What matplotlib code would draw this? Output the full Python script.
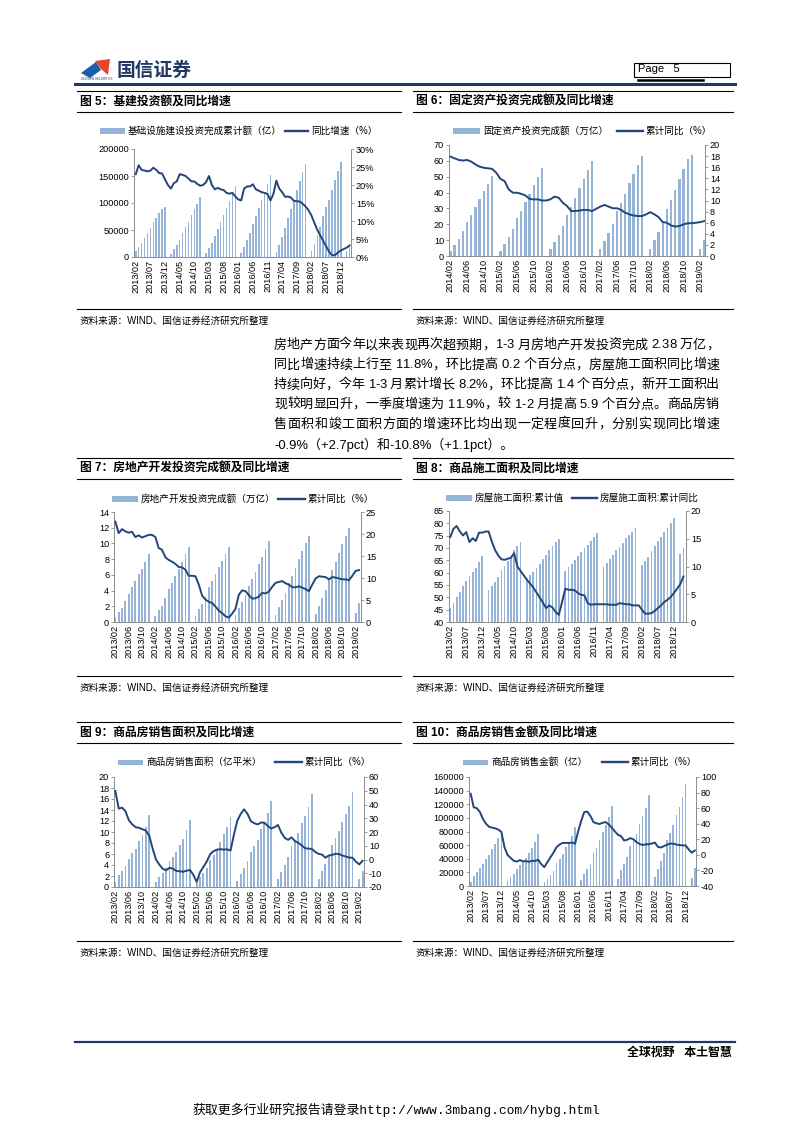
import numpy as np
import pandas as pd
import matplotlib
matplotlib.use("Agg")
import matplotlib.pyplot as plt
from matplotlib.lines import Line2D
from matplotlib.patches import Rectangle, Polygon
from matplotlib.font_manager import FontProperties
from matplotlib.ticker import FuncFormatter, MultipleLocator

plt.rcParams['font.family'] = ['Liberation Sans', 'Noto Sans CJK SC', 'DejaVu Sans']
plt.rcParams['axes.unicode_minus'] = False

W, H = 793, 1122
nan = np.nan

# ---------------- data ----------------
# 图5 基建投资 (2013/02 - 2019/03)
infra_amt = [11000, 18000, 26000, 36000, 45000, 54000, 64000, 73000, 82000, 88000, 93000,
             nan, 6000, 14000, 22000, 31000, 45000, 55000, 65000, 77000, 88000, 98000, 112000,
             nan, 7000, 16000, 26000, 38000, 52000, 64000, 77000, 91000, 103000, 117000, 132000,
             nan, 8000, 19000, 31000, 45000, 62000, 76000, 91000, 106000, 120000, 135000, 152000,
             nan, 10000, 23000, 37000, 53000, 72000, 89000, 106000, 124000, 140000, 157000, 173000,
             nan, 11000, 25000, 40000, 56000, 76000, 92000, 106000, 124000, 142000, 159000, 176000,
             nan, 11000, 25000]
infra_yoy = [23.0, 25.5, 24.2, 24.0, 23.8, 24.0, 24.8, 24.2, 23.3, 23.2, 21.5,
             20.0, 19.0, 20.5, 21.0, 23.0, 22.8, 22.5, 21.8, 21.0, 21.0, 20.3, 19.8,
             20.0, 20.8, 22.5, 20.0, 18.8, 19.2, 18.8, 18.6, 17.8, 17.6, 17.8, 16.8,
             16.0, 15.7, 19.0, 19.6, 19.6, 20.2, 18.8, 18.4, 18.0, 17.8, 17.5, 15.7,
             17.5, 21.2, 19.0, 18.0, 16.7, 16.8, 16.5, 15.6, 15.5, 15.4, 14.8, 14.0,
             13.0, 11.5, 9.5, 7.5, 6.0, 4.5, 3.0, 1.5, 0.5, 0.5, 1.2, 1.8,
             2.2, 2.6, 3.2]

# 图6 固定资产投资 (2014/02 - 2019/03)
fai_amt = [3.0, 6.8, 10.6, 15.6, 21.3, 25.9, 30.6, 35.8, 40.7, 45.1, 50.2,
           nan, 3.4, 7.7, 11.8, 16.9, 23.7, 28.6, 34.0, 39.4, 44.8, 49.8, 55.2,
           nan, 4.2, 8.6, 13.2, 18.7, 25.8, 31.2, 36.6, 42.6, 48.3, 54.0, 59.7,
           nan, 4.4, 9.4, 14.6, 20.3, 28.1, 33.7, 39.4, 45.8, 51.7, 57.5, 63.2,
           nan, 4.5, 10.0, 15.4, 21.6, 29.7, 35.5, 41.4, 48.3, 54.7, 61.0, 63.6,
           nan, 4.5, 10.2]
fai_yoy = [17.9, 17.6, 17.3, 17.2, 17.3, 17.0, 16.5, 16.1, 15.9, 15.8, 15.7,
           15.0, 13.9, 13.5, 12.0, 11.4, 11.4, 11.2, 10.9, 10.3, 10.2, 10.2, 10.0,
           10.0, 10.2, 10.7, 10.5, 9.6, 9.0, 8.1, 8.1, 8.2, 8.3, 8.3, 8.1,
           8.5, 8.9, 9.2, 8.9, 8.6, 8.6, 8.3, 7.8, 7.5, 7.3, 7.2, 7.2,
           7.5, 7.9, 7.5, 7.0, 6.1, 6.0, 5.5, 5.3, 5.4, 5.7, 5.9, 5.9,
           6.0, 6.1, 6.3]

# 图7 房地产开发投资 (2013/02 - 2019/03)
re_amt = [0.7, 1.3, 1.8, 2.7, 3.6, 4.4, 5.2, 6.1, 6.8, 7.7, 8.6,
          nan, 0.8, 1.5, 2.1, 3.0, 4.2, 5.0, 5.9, 6.8, 7.7, 8.6, 9.5,
          nan, 0.8, 1.7, 2.3, 3.2, 4.4, 5.2, 6.1, 7.0, 7.8, 8.7, 9.6,
          nan, 0.9, 1.8, 2.5, 3.5, 4.6, 5.5, 6.4, 7.4, 8.3, 9.3, 10.3,
          nan, 0.9, 1.9, 2.8, 3.7, 5.0, 5.9, 6.9, 8.0, 9.0, 10.0, 11.0,
          nan, 1.0, 2.0, 3.0, 4.1, 5.5, 6.6, 7.7, 8.8, 9.9, 11.0, 12.0,
          nan, 1.2, 2.4]
re_yoy = [22.8, 20.2, 21.1, 20.6, 20.3, 20.5, 19.3, 19.7, 19.2, 19.5, 19.8,
          19.8, 19.3, 16.8, 16.4, 14.7, 14.1, 13.7, 13.2, 12.5, 12.4, 11.9, 10.5,
          10.5, 10.4, 8.5, 6.0, 5.1, 4.6, 4.3, 3.5, 2.6, 2.0, 1.3, 1.0,
          1.9, 3.0, 6.2, 7.2, 7.0, 6.1, 5.3, 5.4, 5.8, 6.6, 6.5, 6.9,
          8.0, 8.9, 9.1, 9.3, 8.8, 8.5, 7.9, 7.9, 8.1, 7.8, 7.5, 7.0,
          8.5, 9.9, 10.4, 10.3, 10.2, 9.7, 10.2, 10.1, 9.9, 9.7, 9.7, 9.5,
          10.5, 11.6, 11.8]

# 图8 房屋施工面积 (2013/02 - 2019/03)
con_area = [45.5, 47.8, 50.0, 52.3, 54.7, 56.8, 58.5, 60.3, 61.7, 64.5, 66.6,
            nan, 53.0, 54.7, 56.3, 58.3, 61.1, 62.8, 64.8, 66.5, 69.3, 71.0, 72.6,
            nan, 58.0, 58.9, 60.2, 61.9, 63.7, 65.5, 67.0, 69.2, 70.9, 72.4, 73.6,
            nan, 60.7, 62.5, 63.5, 65.2, 66.8, 68.4, 69.8, 71.3, 72.9, 74.4, 75.9,
            nan, 62.4, 63.9, 65.4, 67.1, 69.2, 70.6, 72.0, 73.9, 75.1, 76.6, 78.1,
            nan, 63.3, 64.7, 66.4, 68.6, 71.0, 72.8, 74.5, 76.6, 78.2, 80.2, 82.2,
            nan, 67.5, 70.0]
con_yoy = [15.3, 16.8, 17.3, 16.3, 15.6, 16.2, 14.4, 15.1, 14.6, 16.1, 16.1,
           16.3, 16.3, 14.5, 13.0, 12.0, 11.3, 11.2, 11.4, 11.6, 12.4, 10.0, 9.2,
           8.4, 7.6, 6.9, 6.2, 5.3, 4.4, 3.5, 2.5, 3.0, 2.6, 1.8, 1.3,
           3.6, 6.0, 5.8, 5.8, 5.7, 5.2, 4.9, 4.8, 3.4, 3.1, 3.2, 3.2,
           3.2, 3.2, 3.2, 3.1, 3.1, 3.1, 3.4, 3.3, 3.2, 3.2, 3.0, 3.0,
           3.0, 2.2, 1.5, 1.5, 1.6, 2.0, 2.5, 3.0, 3.6, 4.0, 4.5, 5.2,
           6.0, 6.8, 8.2]

# 图9 商品房销售面积 (2013/02 - 2019/03)
sale_area = [1.0, 2.2, 2.9, 3.9, 5.1, 6.1, 7.0, 8.4, 9.5, 11.0, 13.1,
             nan, 1.0, 1.9, 2.6, 3.5, 4.7, 5.5, 6.4, 7.6, 8.8, 10.4, 12.1,
             nan, 0.8, 1.8, 2.5, 3.5, 5.0, 5.9, 6.9, 8.2, 9.6, 10.9, 12.8,
             nan, 1.1, 2.4, 3.5, 4.7, 6.4, 7.5, 8.6, 10.5, 11.9, 13.5, 15.7,
             nan, 1.4, 2.8, 4.0, 5.4, 7.4, 8.6, 9.8, 11.6, 13.0, 14.6, 16.9,
             nan, 1.4, 2.9, 4.2, 5.7, 7.7, 9.0, 10.2, 11.9, 13.3, 14.8, 17.2,
             nan, 1.4, 3.0]
sale_area_yoy = [49.8, 37.0, 37.7, 35.0, 28.5, 25.5, 23.5, 23.0, 22.0, 21.0, 17.3,
                 8.0, -0.1, -3.8, -6.8, -7.8, -6.0, -6.7, -8.3, -8.6, -8.9, -8.2, -7.6,
                 -11.0, -16.3, -9.2, -5.4, -1.4, 3.9, 6.1, 7.2, 7.5, 7.2, 7.4, 6.5,
                 18.0, 28.2, 33.1, 36.5, 33.2, 27.9, 26.4, 25.5, 26.9, 26.8, 24.3, 22.5,
                 23.5, 25.1, 19.5, 15.7, 14.3, 16.1, 13.5, 12.1, 10.3, 8.2, 7.9, 7.7,
                 5.5, 4.1, 3.6, 1.3, 2.9, 3.3, 4.2, 4.0, 2.9, 2.2, 1.4, 1.3,
                 -1.5, -3.6, -0.9]

# 图10 商品房销售金额 (2013/02 - 2019/03)
sale_amt = [6500, 14000, 20000, 26000, 33000, 40000, 46000, 54000, 61000, 70000, 81400,
            nan, 7000, 13000, 18000, 25000, 31000, 36000, 41000, 49000, 56000, 64000, 76300,
            nan, 5800, 11000, 16000, 22000, 34000, 40000, 47000, 57000, 65000, 74000, 87300,
            nan, 8600, 18000, 25000, 33000, 48000, 56000, 67000, 80000, 90000, 102000, 117600,
            nan, 11000, 23000, 32000, 43000, 59000, 67000, 77000, 91000, 103000, 115000, 133700,
            nan, 13000, 25000, 36000, 48000, 67000, 78000, 89000, 104000, 116000, 130000, 150000,
            nan, 12300, 27000]
sale_amt_yoy = [78.5, 61.0, 60.0, 55.0, 46.0, 40.0, 36.0, 35.0, 34.0, 32.5, 29.5,
                10.0, -0.1, -3.8, -7.5, -8.7, -6.7, -8.2, -8.1, -8.9, -7.6, -7.8, -6.3,
                -12.0, -15.8, -9.3, -3.0, 3.0, 10.0, 13.4, 15.3, 15.3, 15.3, 15.8, 14.4,
                30.0, 43.6, 55.0, 55.6, 50.0, 42.0, 40.5, 39.6, 41.3, 42.0, 39.0, 34.8,
                30.0, 25.7, 24.0, 18.4, 19.4, 21.5, 20.0, 16.5, 14.0, 12.7, 13.5, 13.7,
                14.5, 15.8, 10.2, 9.5, 11.3, 13.2, 14.5, 14.4, 13.3, 12.6, 12.1, 12.2,
                7.0, 2.8, 5.6]

ticks_5m = ['2013/02', '2013/07', '2013/12', '2014/05', '2014/10', '2015/03', '2015/08',
            '2016/01', '2016/06', '2016/11', '2017/04', '2017/09', '2018/02', '2018/07', '2018/12']
ticks_4m = ['2013/02', '2013/06', '2013/10', '2014/02', '2014/06', '2014/10', '2015/02',
            '2015/06', '2015/10', '2016/02', '2016/06', '2016/10', '2017/02', '2017/06',
            '2017/10', '2018/02', '2018/06', '2018/10', '2019/02']
ticks_fai = ['2014/02', '2014/06', '2014/10', '2015/02', '2015/06', '2015/10', '2016/02',
             '2016/06', '2016/10', '2017/02', '2017/06', '2017/10', '2018/02', '2018/06',
             '2018/10', '2019/02']

paragraph = [
    "房地产方面今年以来表现再次超预期，1-3 月房地产开发投资完成 2.38 万亿，",
    "同比增速持续上行至 11.8%，环比提高 0.2 个百分点，房屋施工面积同比增速",
    "持续向好，今年 1-3 月累计增长 8.2%，环比提高 1.4 个百分点，新开工面积出",
    "现较明显回升，一季度增速为 11.9%，较 1-2 月提高 5.9 个百分点。商品房销",
    "售面积和竣工面积方面的增速环比均出现一定程度回升，分别实现同比增速",
    "-0.9%（+2.7pct）和-10.8%（+1.1pct）。",
]

BAR = '#95B3D7'
LINE = '#23467A'
GRAY = '#8C8C8C'
NAVY = '#1F3864'
SOURCE = '资料来源：WIND、国信证券经济研究所整理'

fig = plt.figure(figsize=(W / 100, H / 100), dpi=100)


def fx(x):
    return x / W


def fy(y):
    return 1 - y / H


def hline(x0, x1, y, lw=0.8, color='black'):
    fig.add_artist(Line2D([fx(x0), fx(x1)], [fy(y), fy(y)], color=color, lw=lw))


def txt(x, y, s, size, **kw):
    kw.setdefault('va', 'center')
    return fig.text(fx(x), fy(y), s, fontsize=size, **kw)


def justified(x0, x1, y, s, size):
    # spread the characters so the line fills x0..x1 like the report's justified text
    renderer = fig.canvas.get_renderer()
    prop = FontProperties(family=plt.rcParams['font.family'], size=size)
    widths = [renderer.get_text_width_height_descent(c, prop, ismath=False)[0] for c in s]
    extra = (x1 - x0 - sum(widths)) / max(len(s) - 1, 1)
    pos = x0
    for c, w in zip(s, widths):
        txt(pos, y, c, size)
        pos += w + extra


def legend_row(y, bar_x, bar_label, line_x, line_label, size=6.9):
    fig.add_artist(Rectangle((fx(bar_x[0]), fy(y + 2.5)), fx(bar_x[1] - bar_x[0]), 5.0 / H,
                             color=BAR, lw=0))
    txt(bar_x[1] + 3, y, bar_label, size)
    fig.add_artist(Line2D([fx(line_x[0]), fx(line_x[1])], [fy(y), fy(y)], color=LINE, lw=1.7))
    txt(line_x[1] + 3, y, line_label, size)


def month_index(start, end):
    return list(pd.period_range(start, end, freq='M').strftime('%Y/%m'))


def combo(box, months, bars, line, ticks, ylim, ystep, y2lim, y2step, xlim_pad,
          lfmt=None, rfmt=None):
    x0, y0, x1, y1 = box
    ax = fig.add_axes([fx(x0), fy(y1), fx(x1 - x0), (y1 - y0) / H])
    x = np.arange(len(months))
    ax.bar(x, bars, width=0.55, color=BAR, zorder=2)
    ax.set_ylim(*ylim)
    ax.yaxis.set_major_locator(MultipleLocator(ystep))
    ax.set_xlim(-xlim_pad[0], len(months) - 1 + xlim_pad[1])
    ax.set_xticks([months.index(t) for t in ticks])
    ax.set_xticklabels(ticks, rotation=90, fontsize=6.3)
    ax2 = ax.twinx()
    ax2.plot(x, line, color=LINE, lw=1.4)
    ax2.set_ylim(*y2lim)
    ax2.yaxis.set_major_locator(MultipleLocator(y2step))
    if lfmt:
        ax.yaxis.set_major_formatter(FuncFormatter(lfmt))
    if rfmt:
        ax2.yaxis.set_major_formatter(FuncFormatter(rfmt))
    for a in (ax, ax2):
        a.spines['top'].set_visible(False)
        for s in a.spines.values():
            s.set_color(GRAY)
            s.set_linewidth(0.7)
        a.tick_params(labelsize=6.6, length=2, width=0.6, color=GRAY, pad=1.5)
    ax.spines['right'].set_visible(False)
    ax2.spines['left'].set_visible(False)
    ax2.spines['bottom'].set_visible(False)
    ax.tick_params(axis='x', length=0, pad=2)
    ax.patch.set_alpha(0)
    return ax, ax2


def section(x0, x1, top, title, bottom):
    hline(x0, x1, top)
    txt(x0 + 3, top + 10.5, title, 8.5, weight='bold')
    hline(x0, x1, top + 20.5)
    hline(x0, x1, bottom)
    txt(x0 + 3, bottom + 12, SOURCE, 6.9)


# ---------------- header ----------------
fig.add_artist(Polygon([(fx(81), fy(73)), (fx(96), fy(62)), (fx(101), fy(70)), (fx(90), fy(78))],
                       closed=True, color='#1B5EAB', lw=0))
fig.add_artist(Polygon([(fx(95), fy(61)), (fx(110), fy(59)), (fx(108), fy(75)), (fx(101), fy(69))],
                       closed=True, color='#E8432E', lw=0))
txt(117, 71, '国信证券', 13.5, weight='bold', color=NAVY)
txt(81, 79.5, 'GUOSEN SECURITIES', 2.2, color=NAVY)
fig.add_artist(Rectangle((fx(634), fy(77)), fx(96), 14 / H, fill=False, ec='black', lw=0.8))
txt(638, 69.5, 'Page   5', 8)
hline(638, 703, 80, lw=1.8)
hline(75, 735, 83.5, lw=2.2, color=NAVY)

# ---------------- row 1 ----------------
section(77, 401, 91, '图 5：基建投资额及同比增速', 309)
section(413, 733, 91, '图 6：固定资产投资完成额及同比增速', 309)
legend_row(131, (100, 125), '基础设施建设投资完成累计额（亿）', (285, 308), '同比增速（%）')
legend_row(131, (453, 480), '固定资产投资完成额（万亿）', (617, 643), '累计同比（%）')

m1 = month_index('2013-02', '2019-03')
m6 = month_index('2014-02', '2019-03')

combo((134, 149, 351, 257), m1, infra_amt, infra_yoy, ticks_5m, (0, 200000), 50000,
      (0, 30), 5, (0.6, 0.5), rfmt=lambda v, p: f'{v:.0f}%')
combo((449, 145, 705, 256), m6, fai_amt, fai_yoy, ticks_fai, (0, 70), 10,
      (0, 20), 2, (0.35, 0.15))

# ---------------- paragraph ----------------
for i, line in enumerate(paragraph):
    y = 345.5 + 19.8 * i
    if i < len(paragraph) - 1:
        justified(274, 719, y, line, 9.4)
    else:
        txt(274, y, line, 9.4)

# ---------------- row 2 ----------------
section(77, 401, 458, '图 7：房地产开发投资完成额及同比增速', 676)
section(413, 733, 458, '图 8：商品施工面积及同比增速', 676)
legend_row(499, (112, 138), '房地产开发投资完成额（万亿）', (278, 305), '累计同比（%）')
legend_row(498, (446, 472), '房屋施工面积:累计值', (572, 597), '房屋施工面积:累计同比')

combo((114, 512, 361, 622), m1, re_amt, re_yoy, ticks_4m, (0, 14), 2,
      (0, 25), 5, (0.4, 0.6))
combo((449, 511, 686, 622), m1, con_area, con_yoy, ticks_5m, (40, 85), 5,
      (0, 20), 5, (0.4, 0.8))

# ---------------- row 3 ----------------
section(77, 401, 722, '图 9：商品房销售面积及同比增速', 941)
section(413, 733, 722, '图 10：商品房销售金额及同比增速', 941)
legend_row(762, (118, 143), '商品房销售面积（亿平米）', (275, 302), '累计同比（%）')
legend_row(762, (463, 488), '商品房销售金额（亿）', (602, 628), '累计同比（%）')

combo((114, 777, 364, 887), m1, sale_area, sale_area_yoy, ticks_4m, (0, 20), 2,
      (-20, 60), 10, (0.4, 0.4))
combo((469, 777, 696, 886), m1, sale_amt, sale_amt_yoy, ticks_5m, (0, 160000), 20000,
      (-40, 100), 20, (0.55, 0.4))

# ---------------- footer ----------------
hline(75, 735, 1041.5, lw=1.6, color=NAVY)
txt(732, 1053, '全球视野   本土智慧', 8.6, weight='bold', ha='right')
txt(396, 1110, '获取更多行业研究报告请登录http://www.3mbang.com/hybg.html', 9.3, ha='center',
    family=['Liberation Mono', 'Noto Sans CJK SC'])

fig.savefig('out.png', dpi=100)
